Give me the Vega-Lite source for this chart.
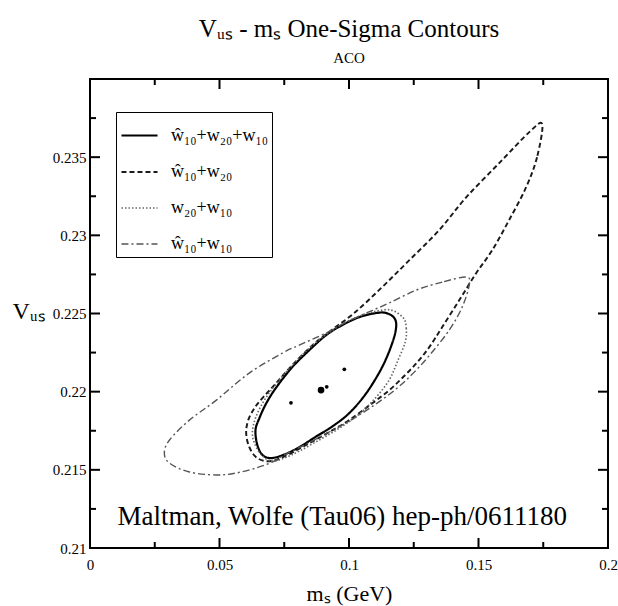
{
  "$schema": "https://vega.github.io/schema/vega-lite/v6.json",
  "width": 518,
  "height": 469,
  "autosize": {"type": "none"},
  "padding": {"left": 90, "top": 79, "right": 10, "bottom": 58},
  "background": "white",
  "config": {
    "view": {"stroke": "black", "strokeWidth": 2},
    "font": "Liberation Serif",
    "axis": {"labelFont": "Liberation Serif", "titleFont": "Liberation Serif", "labelColor": "black", "titleColor": "black", "grid": false, "titleFontWeight": "normal"}
  },
  "title": {"text": "Vᵤₛ - mₛ One-Sigma Contours", "subtitle": "ACO", "font": "Liberation Serif", "subtitleFont": "Liberation Serif", "fontSize": 25, "fontWeight": "normal", "subtitleFontSize": 15, "color": "black", "subtitleColor": "black", "anchor": "middle", "offset": 13, "subtitlePadding": 9},
  "datasets": {
    "c": [
      {"s": "ŵ₁₀+w₂₀+w₁₀", "i": 0, "x": 0.1175, "y": 0.22471},
      {"s": "ŵ₁₀+w₂₀+w₁₀", "i": 1, "x": 0.1182, "y": 0.22413},
      {"s": "ŵ₁₀+w₂₀+w₁₀", "i": 2, "x": 0.1167, "y": 0.22311},
      {"s": "ŵ₁₀+w₂₀+w₁₀", "i": 3, "x": 0.1128, "y": 0.22157},
      {"s": "ŵ₁₀+w₂₀+w₁₀", "i": 4, "x": 0.1067, "y": 0.21991},
      {"s": "ŵ₁₀+w₂₀+w₁₀", "i": 5, "x": 0.1001, "y": 0.21863},
      {"s": "ŵ₁₀+w₂₀+w₁₀", "i": 6, "x": 0.0936, "y": 0.21778},
      {"s": "ŵ₁₀+w₂₀+w₁₀", "i": 7, "x": 0.0872, "y": 0.21712},
      {"s": "ŵ₁₀+w₂₀+w₁₀", "i": 8, "x": 0.0808, "y": 0.21645},
      {"s": "ŵ₁₀+w₂₀+w₁₀", "i": 9, "x": 0.075, "y": 0.21598},
      {"s": "ŵ₁₀+w₂₀+w₁₀", "i": 10, "x": 0.07, "y": 0.21575},
      {"s": "ŵ₁₀+w₂₀+w₁₀", "i": 11, "x": 0.0666, "y": 0.21595},
      {"s": "ŵ₁₀+w₂₀+w₁₀", "i": 12, "x": 0.0646, "y": 0.21659},
      {"s": "ŵ₁₀+w₂₀+w₁₀", "i": 13, "x": 0.0639, "y": 0.21754},
      {"s": "ŵ₁₀+w₂₀+w₁₀", "i": 14, "x": 0.0654, "y": 0.21831},
      {"s": "ŵ₁₀+w₂₀+w₁₀", "i": 15, "x": 0.0681, "y": 0.21927},
      {"s": "ŵ₁₀+w₂₀+w₁₀", "i": 16, "x": 0.072, "y": 0.22029},
      {"s": "ŵ₁₀+w₂₀+w₁₀", "i": 17, "x": 0.0781, "y": 0.22157},
      {"s": "ŵ₁₀+w₂₀+w₁₀", "i": 18, "x": 0.0847, "y": 0.22266},
      {"s": "ŵ₁₀+w₂₀+w₁₀", "i": 19, "x": 0.0912, "y": 0.22362},
      {"s": "ŵ₁₀+w₂₀+w₁₀", "i": 20, "x": 0.0974, "y": 0.22426},
      {"s": "ŵ₁₀+w₂₀+w₁₀", "i": 21, "x": 0.104, "y": 0.22477},
      {"s": "ŵ₁₀+w₂₀+w₁₀", "i": 22, "x": 0.1105, "y": 0.22503},
      {"s": "ŵ₁₀+w₂₀+w₁₀", "i": 23, "x": 0.1144, "y": 0.22503},

      {"s": "ŵ₁₀+w₂₀", "i": 0, "x": 0.1746, "y": 0.23711},
      {"s": "ŵ₁₀+w₂₀", "i": 1, "x": 0.1726, "y": 0.235},
      {"s": "ŵ₁₀+w₂₀", "i": 2, "x": 0.1684, "y": 0.23308},
      {"s": "ŵ₁₀+w₂₀", "i": 3, "x": 0.1618, "y": 0.23097},
      {"s": "ŵ₁₀+w₂₀", "i": 4, "x": 0.1553, "y": 0.22905},
      {"s": "ŵ₁₀+w₂₀", "i": 5, "x": 0.1491, "y": 0.22758},
      {"s": "ŵ₁₀+w₂₀", "i": 6, "x": 0.1426, "y": 0.22586},
      {"s": "ŵ₁₀+w₂₀", "i": 7, "x": 0.136, "y": 0.22413},
      {"s": "ŵ₁₀+w₂₀", "i": 8, "x": 0.131, "y": 0.22285},
      {"s": "ŵ₁₀+w₂₀", "i": 9, "x": 0.1264, "y": 0.22189},
      {"s": "ŵ₁₀+w₂₀", "i": 10, "x": 0.1213, "y": 0.221},
      {"s": "ŵ₁₀+w₂₀", "i": 11, "x": 0.1156, "y": 0.2201},
      {"s": "ŵ₁₀+w₂₀", "i": 12, "x": 0.1086, "y": 0.21921},
      {"s": "ŵ₁₀+w₂₀", "i": 13, "x": 0.1001, "y": 0.21818},
      {"s": "ŵ₁₀+w₂₀", "i": 14, "x": 0.0924, "y": 0.21742},
      {"s": "ŵ₁₀+w₂₀", "i": 15, "x": 0.0847, "y": 0.21671},
      {"s": "ŵ₁₀+w₂₀", "i": 16, "x": 0.077, "y": 0.21601},
      {"s": "ŵ₁₀+w₂₀", "i": 17, "x": 0.07, "y": 0.21556},
      {"s": "ŵ₁₀+w₂₀", "i": 18, "x": 0.0646, "y": 0.21575},
      {"s": "ŵ₁₀+w₂₀", "i": 19, "x": 0.0615, "y": 0.21646},
      {"s": "ŵ₁₀+w₂₀", "i": 20, "x": 0.0603, "y": 0.21735},
      {"s": "ŵ₁₀+w₂₀", "i": 21, "x": 0.0611, "y": 0.21818},
      {"s": "ŵ₁₀+w₂₀", "i": 22, "x": 0.0635, "y": 0.21895},
      {"s": "ŵ₁₀+w₂₀", "i": 23, "x": 0.0669, "y": 0.21965},
      {"s": "ŵ₁₀+w₂₀", "i": 24, "x": 0.0712, "y": 0.22042},
      {"s": "ŵ₁₀+w₂₀", "i": 25, "x": 0.0774, "y": 0.22157},
      {"s": "ŵ₁₀+w₂₀", "i": 26, "x": 0.0847, "y": 0.22279},
      {"s": "ŵ₁₀+w₂₀", "i": 27, "x": 0.0912, "y": 0.22368},
      {"s": "ŵ₁₀+w₂₀", "i": 28, "x": 0.102, "y": 0.22503},
      {"s": "ŵ₁₀+w₂₀", "i": 29, "x": 0.1128, "y": 0.22669},
      {"s": "ŵ₁₀+w₂₀", "i": 30, "x": 0.1233, "y": 0.22841},
      {"s": "ŵ₁₀+w₂₀", "i": 31, "x": 0.1348, "y": 0.23033},
      {"s": "ŵ₁₀+w₂₀", "i": 32, "x": 0.1453, "y": 0.23244},
      {"s": "ŵ₁₀+w₂₀", "i": 33, "x": 0.158, "y": 0.23462},
      {"s": "ŵ₁₀+w₂₀", "i": 34, "x": 0.1696, "y": 0.2366},

      {"s": "w₂₀+w₁₀", "i": 0, "x": 0.121, "y": 0.22471},
      {"s": "w₂₀+w₁₀", "i": 1, "x": 0.1221, "y": 0.22407},
      {"s": "w₂₀+w₁₀", "i": 2, "x": 0.1217, "y": 0.22317},
      {"s": "w₂₀+w₁₀", "i": 3, "x": 0.1186, "y": 0.22189},
      {"s": "w₂₀+w₁₀", "i": 4, "x": 0.1155, "y": 0.22074},
      {"s": "w₂₀+w₁₀", "i": 5, "x": 0.1105, "y": 0.21965},
      {"s": "w₂₀+w₁₀", "i": 6, "x": 0.104, "y": 0.21857},
      {"s": "w₂₀+w₁₀", "i": 7, "x": 0.0963, "y": 0.21767},
      {"s": "w₂₀+w₁₀", "i": 8, "x": 0.0885, "y": 0.21691},
      {"s": "w₂₀+w₁₀", "i": 9, "x": 0.0808, "y": 0.2162},
      {"s": "w₂₀+w₁₀", "i": 10, "x": 0.075, "y": 0.21575},
      {"s": "w₂₀+w₁₀", "i": 11, "x": 0.07, "y": 0.21556},
      {"s": "w₂₀+w₁₀", "i": 12, "x": 0.0662, "y": 0.21595},
      {"s": "w₂₀+w₁₀", "i": 13, "x": 0.0635, "y": 0.21671},
      {"s": "w₂₀+w₁₀", "i": 14, "x": 0.0627, "y": 0.21742},
      {"s": "w₂₀+w₁₀", "i": 15, "x": 0.0639, "y": 0.21831},
      {"s": "w₂₀+w₁₀", "i": 16, "x": 0.0669, "y": 0.21934},
      {"s": "w₂₀+w₁₀", "i": 17, "x": 0.0712, "y": 0.22036},
      {"s": "w₂₀+w₁₀", "i": 18, "x": 0.0774, "y": 0.22157},
      {"s": "w₂₀+w₁₀", "i": 19, "x": 0.0839, "y": 0.22266},
      {"s": "w₂₀+w₁₀", "i": 20, "x": 0.0909, "y": 0.22362},
      {"s": "w₂₀+w₁₀", "i": 21, "x": 0.0974, "y": 0.22432},
      {"s": "w₂₀+w₁₀", "i": 22, "x": 0.104, "y": 0.22483},
      {"s": "w₂₀+w₁₀", "i": 23, "x": 0.1105, "y": 0.22515},
      {"s": "w₂₀+w₁₀", "i": 24, "x": 0.1163, "y": 0.22522},

      {"s": "ŵ₁₀+w₁₀", "i": 0, "x": 0.1453, "y": 0.22733},
      {"s": "ŵ₁₀+w₁₀", "i": 1, "x": 0.136, "y": 0.22701},
      {"s": "ŵ₁₀+w₁₀", "i": 2, "x": 0.126, "y": 0.2265},
      {"s": "ŵ₁₀+w₁₀", "i": 3, "x": 0.1155, "y": 0.22567},
      {"s": "ŵ₁₀+w₁₀", "i": 4, "x": 0.1067, "y": 0.22503},
      {"s": "ŵ₁₀+w₁₀", "i": 5, "x": 0.0982, "y": 0.22439},
      {"s": "ŵ₁₀+w₁₀", "i": 6, "x": 0.0912, "y": 0.22375},
      {"s": "ŵ₁₀+w₁₀", "i": 7, "x": 0.0808, "y": 0.22298},
      {"s": "ŵ₁₀+w₁₀", "i": 8, "x": 0.0743, "y": 0.22247},
      {"s": "ŵ₁₀+w₁₀", "i": 9, "x": 0.0615, "y": 0.22119},
      {"s": "ŵ₁₀+w₁₀", "i": 10, "x": 0.0488, "y": 0.21946},
      {"s": "ŵ₁₀+w₁₀", "i": 11, "x": 0.0384, "y": 0.21818},
      {"s": "ŵ₁₀+w₁₀", "i": 12, "x": 0.0307, "y": 0.21691},
      {"s": "ŵ₁₀+w₁₀", "i": 13, "x": 0.0287, "y": 0.21607},
      {"s": "ŵ₁₀+w₁₀", "i": 14, "x": 0.0307, "y": 0.21543},
      {"s": "ŵ₁₀+w₁₀", "i": 15, "x": 0.0384, "y": 0.21486},
      {"s": "ŵ₁₀+w₁₀", "i": 16, "x": 0.0488, "y": 0.21467},
      {"s": "ŵ₁₀+w₁₀", "i": 17, "x": 0.0565, "y": 0.2148},
      {"s": "ŵ₁₀+w₁₀", "i": 18, "x": 0.0642, "y": 0.21512},
      {"s": "ŵ₁₀+w₁₀", "i": 19, "x": 0.0704, "y": 0.2155},
      {"s": "ŵ₁₀+w₁₀", "i": 20, "x": 0.075, "y": 0.21595},
      {"s": "ŵ₁₀+w₁₀", "i": 21, "x": 0.0828, "y": 0.21659},
      {"s": "ŵ₁₀+w₁₀", "i": 22, "x": 0.0924, "y": 0.21742},
      {"s": "ŵ₁₀+w₁₀", "i": 23, "x": 0.102, "y": 0.21831},
      {"s": "ŵ₁₀+w₁₀", "i": 24, "x": 0.1109, "y": 0.21927},
      {"s": "ŵ₁₀+w₁₀", "i": 25, "x": 0.1186, "y": 0.22023},
      {"s": "ŵ₁₀+w₁₀", "i": 26, "x": 0.1252, "y": 0.22125},
      {"s": "ŵ₁₀+w₁₀", "i": 27, "x": 0.1318, "y": 0.22247},
      {"s": "ŵ₁₀+w₁₀", "i": 28, "x": 0.1387, "y": 0.22394},
      {"s": "ŵ₁₀+w₁₀", "i": 29, "x": 0.1437, "y": 0.22541},
      {"s": "ŵ₁₀+w₁₀", "i": 30, "x": 0.1464, "y": 0.22682}
    ],
    "p": [
      {"x": 0.0892, "y": 0.2201, "k": "central"},
      {"x": 0.0914, "y": 0.22031, "k": "other"},
      {"x": 0.0982, "y": 0.22143, "k": "other"},
      {"x": 0.0776, "y": 0.21929, "k": "other"}
    ],
    "t": [
      {"x": 0.0974, "y": 0.21147, "t": "Maltman, Wolfe (Tau06) hep-ph/0611180"}
    ],
    "tx": [
      {"v": 0, "m": "major"}, {"v": 0.025, "m": "minor"}, {"v": 0.05, "m": "major"}, {"v": 0.075, "m": "minor"},
      {"v": 0.1, "m": "major"}, {"v": 0.125, "m": "minor"}, {"v": 0.15, "m": "major"}, {"v": 0.175, "m": "minor"}, {"v": 0.2, "m": "major"}
    ],
    "ty": [
      {"v": 0.21, "m": "major"}, {"v": 0.2125, "m": "minor"}, {"v": 0.215, "m": "major"}, {"v": 0.2175, "m": "minor"},
      {"v": 0.22, "m": "major"}, {"v": 0.2225, "m": "minor"}, {"v": 0.225, "m": "major"}, {"v": 0.2275, "m": "minor"},
      {"v": 0.23, "m": "major"}, {"v": 0.2325, "m": "minor"}, {"v": 0.235, "m": "major"}, {"v": 0.2375, "m": "minor"}, {"v": 0.24, "m": "major"}
    ]
  },
  "resolve": {"scale": {"size": "independent"}, "axis": {"x": "independent", "y": "independent"}},
  "layer": [
    {
      "data": {"name": "c"},
      "mark": {"type": "line", "interpolate": "cardinal-closed"},
      "encoding": {
        "x": {"field": "x", "type": "quantitative", "scale": {"domain": [0, 0.2], "nice": false, "zero": false},
          "axis": {"orient": "bottom", "domain": false, "values": [0, 0.05, 0.1, 0.15, 0.2], "format": "~g", "ticks": false, "labelFontSize": 15, "labelPadding": 9, "labelFlush": false, "title": "mₛ (GeV)", "titleFontSize": 22, "titleY": 52, "titleBaseline": "alphabetic"}},
        "y": {"field": "y", "type": "quantitative", "scale": {"domain": [0.21, 0.24], "nice": false, "zero": false},
          "axis": {"orient": "left", "domain": false, "values": [0.21, 0.215, 0.22, 0.225, 0.23, 0.235], "format": "~g", "ticks": false, "labelFontSize": 15, "labelPadding": 4, "labelFlush": false, "title": "Vᵤₛ", "titleFontSize": 24, "titleAngle": 0, "titleX": -62, "titleY": 232, "titleAlign": "center", "titleBaseline": "middle"}},
        "order": {"field": "i", "type": "quantitative"},
        "strokeDash": {"field": "s", "type": "nominal", "title": null,
          "scale": {"domain": ["ŵ₁₀+w₂₀+w₁₀", "ŵ₁₀+w₂₀", "w₂₀+w₁₀", "ŵ₁₀+w₁₀"], "range": [[1, 0], [5, 3], [1.5, 2], [7, 3, 2, 3]]},
          "legend": {"orient": "none", "legendX": 26, "legendY": 33, "strokeColor": "black", "padding": 4, "symbolType": "stroke", "symbolSize": 1300, "labelFont": "Liberation Serif", "labelFontSize": 18, "labelColor": "black", "labelOffset": 12, "rowPadding": 8, "labelLimit": 300}},
        "strokeWidth": {"field": "s", "type": "nominal", "title": null,
          "scale": {"domain": ["ŵ₁₀+w₂₀+w₁₀", "ŵ₁₀+w₂₀", "w₂₀+w₁₀", "ŵ₁₀+w₁₀"], "range": [2.2, 1.4, 1.1, 1.2]}},
        "color": {"field": "s", "type": "nominal", "title": null,
          "scale": {"domain": ["ŵ₁₀+w₂₀+w₁₀", "ŵ₁₀+w₂₀", "w₂₀+w₁₀", "ŵ₁₀+w₁₀"], "range": ["#000000", "#1a1a1a", "#666666", "#555555"]}}
      }
    },
    {
      "data": {"name": "p"},
      "mark": {"type": "point", "filled": true, "shape": "circle", "opacity": 1, "color": "black"},
      "encoding": {
        "x": {"field": "x", "type": "quantitative", "axis": null},
        "y": {"field": "y", "type": "quantitative", "axis": null},
        "size": {"field": "k", "type": "nominal", "scale": {"domain": ["central", "other"], "range": [45, 14]}, "legend": null}
      }
    },
    {
      "data": {"name": "t"},
      "mark": {"type": "text", "font": "Liberation Serif", "fontSize": 27, "align": "center", "baseline": "alphabetic", "color": "black"},
      "encoding": {
        "x": {"field": "x", "type": "quantitative", "axis": null},
        "y": {"field": "y", "type": "quantitative", "axis": null},
        "text": {"field": "t", "type": "nominal"}
      }
    },
    {
      "data": {"name": "tx"},
      "mark": {"type": "tick", "orient": "vertical", "thickness": 2, "color": "black", "opacity": 1, "clip": true},
      "encoding": {
        "x": {"field": "v", "type": "quantitative", "axis": null},
        "y": {"datum": 0.21, "type": "quantitative", "axis": null},
        "size": {"field": "m", "type": "nominal", "scale": {"domain": ["major", "minor"], "range": [20, 12]}, "legend": null}
      }
    },
    {
      "data": {"name": "tx"},
      "mark": {"type": "tick", "orient": "vertical", "thickness": 2, "color": "black", "opacity": 1, "clip": true},
      "encoding": {
        "x": {"field": "v", "type": "quantitative", "axis": null},
        "y": {"datum": 0.24, "type": "quantitative", "axis": null},
        "size": {"field": "m", "type": "nominal", "scale": {"domain": ["major", "minor"], "range": [20, 12]}, "legend": null}
      }
    },
    {
      "data": {"name": "ty"},
      "mark": {"type": "tick", "orient": "horizontal", "thickness": 2, "color": "black", "opacity": 1, "clip": true},
      "encoding": {
        "y": {"field": "v", "type": "quantitative", "axis": null},
        "x": {"datum": 0, "type": "quantitative", "axis": null},
        "size": {"field": "m", "type": "nominal", "scale": {"domain": ["major", "minor"], "range": [20, 12]}, "legend": null}
      }
    },
    {
      "data": {"name": "ty"},
      "mark": {"type": "tick", "orient": "horizontal", "thickness": 2, "color": "black", "opacity": 1, "clip": true},
      "encoding": {
        "y": {"field": "v", "type": "quantitative", "axis": null},
        "x": {"datum": 0.2, "type": "quantitative", "axis": null},
        "size": {"field": "m", "type": "nominal", "scale": {"domain": ["major", "minor"], "range": [20, 12]}, "legend": null}
      }
    }
  ]
}
